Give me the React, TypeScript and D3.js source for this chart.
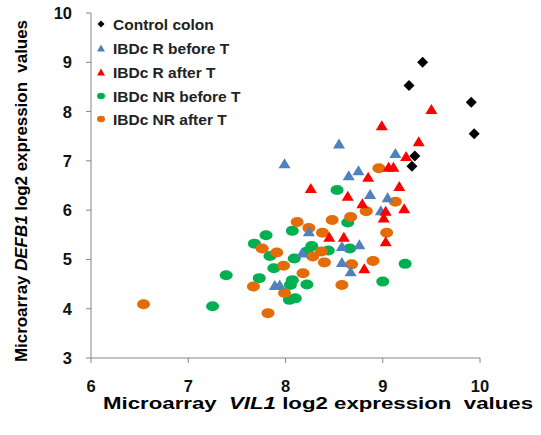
import React from "react";
import * as d3 from "d3";

const W = 541;
const H = 435;

const xTicks = [6, 7, 8, 9, 10];
const yTicks = [3, 4, 5, 6, 7, 8, 9, 10];

const seriesNames = [
  "Control colon",
  "IBDc R before T",
  "IBDc R after T",
  "IBDc NR before T",
  "IBDc NR after T",
];

const controlColon: [number, number][] = [
  [9.41, 9.0], [9.27, 8.53], [9.91, 8.19], [9.94, 7.55], [9.33, 7.1], [9.3, 6.89],
];

const rBeforeT: [number, number][] = [
  [7.99, 6.95], [8.55, 7.35], [9.13, 7.16], [8.65, 6.71], [8.75, 6.81], [8.87, 6.33],
  [9.05, 6.26], [8.98, 6.0], [8.24, 5.57], [8.17, 5.14], [8.58, 5.27], [8.76, 5.31],
  [8.58, 4.95], [8.67, 4.76], [7.89, 4.48], [7.94, 4.49],
];

const rAfterT: [number, number][] = [
  [9.5, 8.05], [8.99, 7.72], [9.37, 7.4], [9.24, 7.1], [9.06, 6.88], [9.11, 6.88],
  [8.85, 6.68], [9.17, 6.49], [8.26, 6.45], [8.64, 6.29], [8.79, 6.14], [9.22, 6.04],
  [9.03, 5.99], [9.01, 5.85], [8.45, 5.46], [8.6, 5.46], [9.03, 5.37], [8.81, 4.82],
];

const nrBeforeT: [number, number][] = [
  [8.53, 6.41], [8.64, 5.75], [8.07, 5.58], [7.8, 5.49], [7.68, 5.32], [7.84, 5.07],
  [8.09, 5.02], [8.22, 5.16], [7.88, 4.82], [7.39, 4.68], [7.73, 4.62], [8.07, 4.58],
  [8.05, 4.48], [8.04, 4.18], [8.1, 4.21], [8.22, 4.49], [7.25, 4.05], [8.27, 5.27],
  [8.66, 5.22], [8.44, 5.18], [9.23, 4.91], [9.0, 4.55],
];

const nrAfterT: [number, number][] = [
  [8.96, 6.85], [9.13, 6.17], [8.83, 5.98], [8.67, 5.86], [8.48, 5.8], [8.24, 5.64],
  [8.38, 5.54], [8.12, 5.76], [9.04, 5.54], [7.76, 5.22], [7.91, 5.14], [7.98, 4.87],
  [8.18, 4.72], [7.67, 4.45], [7.99, 4.32], [7.82, 3.91], [6.54, 4.09], [8.37, 5.16],
  [8.28, 5.06], [8.4, 4.94], [8.68, 4.9], [8.9, 4.97], [8.58, 4.48],
];

const FONT = "'Liberation Sans', Arial, Helvetica, sans-serif";
const AXIS = "#868686";

const colors = {
  control: "#000000",
  rBefore: "#4F81BD",
  rAfter: "#FF0000",
  nrBefore: "#00B050",
  nrAfter: "#E36C09",
};

function triPath(cx: number, cy: number, w: number, h: number) {
  return `M${cx},${cy - h / 2} L${cx + w / 2},${cy + h / 2} L${cx - w / 2},${cy + h / 2} Z`;
}
function diaPath(cx: number, cy: number, r: number) {
  return `M${cx},${cy - r} L${cx + r},${cy} L${cx},${cy + r} L${cx - r},${cy} Z`;
}

export default function App() {
  const x = d3.scaleLinear().domain([6, 10]).range([91, 480]);
  const y = d3.scaleLinear().domain([3, 10]).range([358, 13]);

  const legendY = [24, 48, 72, 96, 119];
  const legendColors = [colors.control, colors.rBefore, colors.rAfter, colors.nrBefore, colors.nrAfter];

  return (
    <svg
      width={W}
      height={H}
      style={{ position: "absolute", left: 0, top: 0, display: "block", background: "#fff" }}
      fontFamily={FONT}
    >
      <rect x={0} y={0} width={W} height={H} fill="#fff" />
      {/* axes */}
      <line x1={x(6)} x2={x(6)} y1={y(10)} y2={y(3)} stroke={AXIS} strokeWidth={1} />
      <line x1={x(6)} x2={x(10)} y1={y(3)} y2={y(3)} stroke={AXIS} strokeWidth={1} />
      {yTicks.map((t) => (
        <g key={"yt" + t}>
          <line x1={x(6) - 5} x2={x(6)} y1={y(t)} y2={y(t)} stroke={AXIS} />
          <text x={72} y={y(t)} dy="0.36em" textAnchor="end" fontSize={16.5} fontWeight="bold" fill="#111">
            {t}
          </text>
        </g>
      ))}
      {xTicks.map((t) => (
        <g key={"xt" + t}>
          <line x1={x(t)} x2={x(t)} y1={y(3)} y2={y(3) + 5} stroke={AXIS} />
          <text x={x(t)} y={392} textAnchor="middle" fontSize={16.5} fontWeight="bold" fill="#111">
            {t}
          </text>
        </g>
      ))}
      {/* axis titles */}
      <text
        x={103}
        y={409}
        fontSize={16}
        fontWeight="bold"
        fill="#000"
        xmlSpace="preserve"
        textLength={430}
        lengthAdjust="spacingAndGlyphs"
      >
        <tspan>Microarray  </tspan>
        <tspan fontStyle="italic">VIL1</tspan>
        <tspan> log2 expression  values</tspan>
      </text>
      <text
        transform={`translate(27,362) rotate(-90)`}
        fontSize={16}
        fontWeight="bold"
        fill="#000"
        xmlSpace="preserve"
        textLength={342}
        lengthAdjust="spacingAndGlyphs"
      >
        <tspan>Microarray </tspan>
        <tspan fontStyle="italic">DEFB1</tspan>
        <tspan> log2 expression  values</tspan>
      </text>

      {/* points */}
      {nrBeforeT.map((d, i) => (
        <ellipse key={"nb" + i} cx={x(d[0])} cy={y(d[1])} rx={6.5} ry={5} fill={colors.nrBefore} />
      ))}
      {nrAfterT.map((d, i) => (
        <ellipse key={"na" + i} cx={x(d[0])} cy={y(d[1])} rx={6.5} ry={5} fill={colors.nrAfter} />
      ))}
      {rBeforeT.map((d, i) => (
        <path key={"rb" + i} d={triPath(x(d[0]), y(d[1]), 12, 10)} fill={colors.rBefore} />
      ))}
      {rAfterT.map((d, i) => (
        <path key={"ra" + i} d={triPath(x(d[0]), y(d[1]), 12, 10)} fill={colors.rAfter} />
      ))}
      {controlColon.map((d, i) => (
        <path key={"cc" + i} d={diaPath(x(d[0]), y(d[1]), 5.5)} fill={colors.control} />
      ))}

      {/* legend */}
      {seriesNames.map((name, i) => {
        const cy = legendY[i];
        const cx = 101;
        let marker;
        if (i === 0) marker = <path d={diaPath(cx, cy, 3.5)} fill={legendColors[i]} />;
        else if (i < 3) marker = <path d={triPath(cx, cy, 8, 7)} fill={legendColors[i]} />;
        else marker = <ellipse cx={cx} cy={cy} rx={4} ry={3.2} fill={legendColors[i]} />;
        return (
          <g key={"lg" + i}>
            {marker}
            <text x={113} y={cy} dy="0.36em" fontSize={15.5} fontWeight="bold" fill="#222">
              {name}
            </text>
          </g>
        );
      })}
    </svg>
  );
}
